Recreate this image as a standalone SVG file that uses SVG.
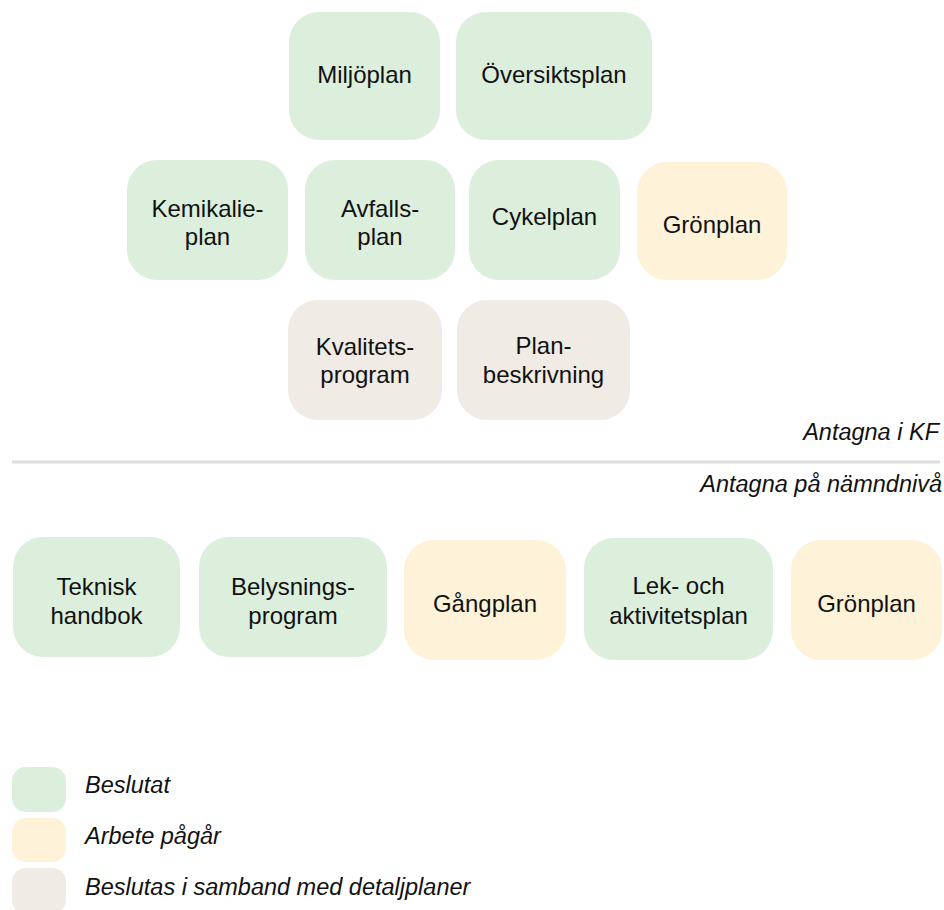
<svg xmlns="http://www.w3.org/2000/svg" width="944" height="910" viewBox="0 0 944 910">
  <style>
    .g { fill: #dcefdc; }
    .y { fill: #fef2d9; }
    .b { fill: #f0ebe5; }
    .t { font-family: "Liberation Sans", Arial, sans-serif; font-size: 24px; fill: #111; text-anchor: middle; }
    .l { font-family: "Liberation Sans", Arial, sans-serif; font-size: 23.5px; font-style: italic; fill: #111; }
  </style>
  <rect width="944" height="910" fill="#ffffff"/>

  <g id="miljoplan">
    <rect class="g" x="289" y="12" width="151" height="128" rx="30"/>
    <text class="t" x="364.5" y="83">Miljöplan</text>
  </g>
  <g id="oversiktsplan">
    <rect class="g" x="456" y="12" width="196" height="128" rx="30"/>
    <text class="t" x="554" y="83">Översiktsplan</text>
  </g>

  <g id="kemikalieplan">
    <rect class="g" x="127" y="160" width="161" height="120" rx="30"/>
    <text class="t" x="207.5" y="217">Kemikalie-</text>
    <text class="t" x="207.5" y="245">plan</text>
  </g>
  <g id="avfallsplan">
    <rect class="g" x="305" y="160" width="150" height="120" rx="30"/>
    <text class="t" x="380" y="217">Avfalls-</text>
    <text class="t" x="380" y="245">plan</text>
  </g>
  <g id="cykelplan">
    <rect class="g" x="469" y="160" width="151" height="120" rx="30"/>
    <text class="t" x="544.5" y="225">Cykelplan</text>
  </g>
  <g id="gronplan1">
    <rect class="y" x="637" y="162" width="150" height="118" rx="30"/>
    <text class="t" x="712" y="233">Grönplan</text>
  </g>

  <g id="kvalitetsprogram">
    <rect class="b" x="288" y="300" width="154" height="120" rx="30"/>
    <text class="t" x="365" y="355">Kvalitets-</text>
    <text class="t" x="365" y="383">program</text>
  </g>
  <g id="planbeskrivning">
    <rect class="b" x="457" y="300" width="173" height="120" rx="30"/>
    <text class="t" x="543.5" y="354">Plan-</text>
    <text class="t" x="543.5" y="383">beskrivning</text>
  </g>

  <g id="divider">
    <text class="l" x="939" y="440" text-anchor="end">Antagna i KF</text>
    <line x1="12" y1="462" x2="940" y2="462" stroke="#dddddd" stroke-width="3"/>
    <text class="l" x="942" y="492" text-anchor="end">Antagna på nämndnivå</text>
  </g>

  <g id="tekniskhandbok">
    <rect class="g" x="13" y="537" width="167" height="120" rx="30"/>
    <text class="t" x="96.5" y="595">Teknisk</text>
    <text class="t" x="96.5" y="624">handbok</text>
  </g>
  <g id="belysningsprogram">
    <rect class="g" x="199" y="537" width="188" height="120" rx="30"/>
    <text class="t" x="293" y="595">Belysnings-</text>
    <text class="t" x="293" y="624">program</text>
  </g>
  <g id="gangplan">
    <rect class="y" x="404" y="540" width="162" height="120" rx="30"/>
    <text class="t" x="485" y="612">Gångplan</text>
  </g>
  <g id="lekochaktivitetsplan">
    <rect class="g" x="584" y="538" width="189" height="122" rx="30"/>
    <text class="t" x="678.5" y="594">Lek- och</text>
    <text class="t" x="678.5" y="624">aktivitetsplan</text>
  </g>
  <g id="gronplan2">
    <rect class="y" x="791" y="540" width="151" height="120" rx="30"/>
    <text class="t" x="866.5" y="612">Grönplan</text>
  </g>

  <g id="legend">
    <rect class="g" x="12" y="767" width="54" height="45" rx="14"/>
    <text class="l" x="85" y="793">Beslutat</text>
    <rect class="y" x="12" y="818" width="54" height="44" rx="14"/>
    <text class="l" x="85" y="844">Arbete pågår</text>
    <rect class="b" x="12" y="868" width="54" height="46" rx="14"/>
    <text class="l" x="85" y="895">Beslutas i samband med detaljplaner</text>
  </g>

  <g id="connectors"></g>
</svg>
